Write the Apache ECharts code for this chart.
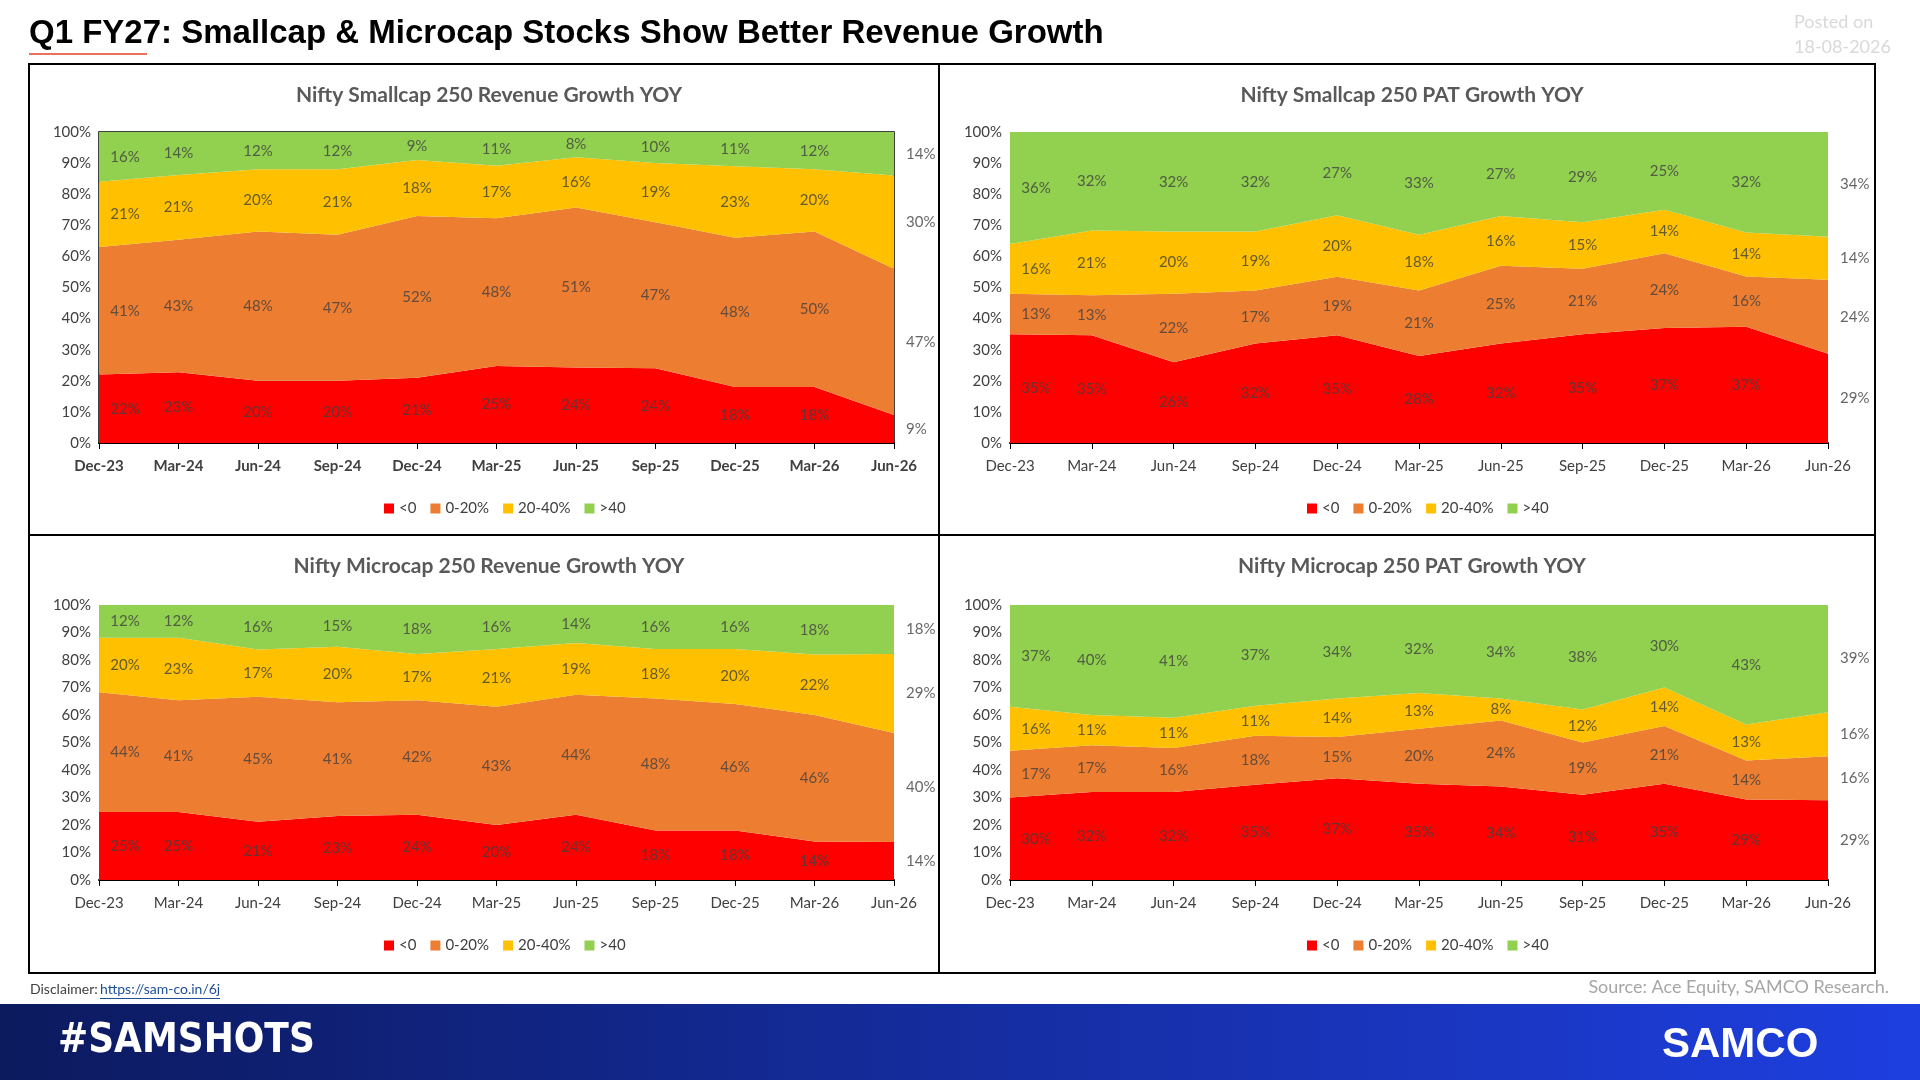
<!doctype html>
<html lang="en">
<head>
<meta charset="UTF-8">
<title>Q1 FY27 Smallcap & Microcap</title>
<script src="https://cdn.jsdelivr.net/npm/echarts@6.0.0/dist/echarts.min.js"></script>
<style>
  html, body { margin: 0; padding: 0; background: #fff; }
  #chart { width: 1920px; height: 1080px; }
</style>
</head>
<body>
<div id="chart"></div>
<script>
    // categories shared by all four panels
    const quarters = ['Dec-23', 'Mar-24', 'Jun-24', 'Sep-24', 'Dec-24', 'Mar-25', 'Jun-25', 'Sep-25', 'Dec-25', 'Mar-26', 'Jun-26']
    const bucketNames = ['<0', '0-20%', '20-40%', '>40']
    const bucketColors = ['#FF0000', '#ED7D31', '#FFC000', '#92D050']

    // Nifty Smallcap 250 revenue growth
    const smallRevNeg = [22, 23, 20, 20, 21, 25, 24, 24, 18, 18, 9]
    const smallRev0to20 = [41, 43, 48, 47, 52, 48, 51, 47, 48, 50, 47]
    const smallRev20to40 = [21, 21, 20, 21, 18, 17, 16, 19, 23, 20, 30]
    const smallRevOver40 = [16, 14, 12, 12, 9, 11, 8, 10, 11, 12, 14]

    // Nifty Smallcap 250 PAT growth
    const smallPatNeg = [35, 35, 26, 32, 35, 28, 32, 35, 37, 37, 29]
    const smallPat0to20 = [13, 13, 22, 17, 19, 21, 25, 21, 24, 16, 24]
    const smallPat20to40 = [16, 21, 20, 19, 20, 18, 16, 15, 14, 14, 14]
    const smallPatOver40 = [36, 32, 32, 32, 27, 33, 27, 29, 25, 32, 34]

    // Nifty Microcap 250 revenue growth
    const microRevNeg = [25, 25, 21, 23, 24, 20, 24, 18, 18, 14, 14]
    const microRev0to20 = [44, 41, 45, 41, 42, 43, 44, 48, 46, 46, 40]
    const microRev20to40 = [20, 23, 17, 20, 17, 21, 19, 18, 20, 22, 29]
    const microRevOver40 = [12, 12, 16, 15, 18, 16, 14, 16, 16, 18, 18]

    // Nifty Microcap 250 PAT growth
    const microPatNeg = [30, 32, 32, 35, 37, 35, 34, 31, 35, 29, 29]
    const microPat0to20 = [17, 17, 16, 18, 15, 20, 24, 19, 21, 14, 16]
    const microPat20to40 = [16, 11, 11, 11, 14, 13, 8, 12, 14, 13, 16]
    const microPatOver40 = [37, 40, 41, 37, 34, 32, 34, 38, 30, 43, 39]

    const FONT = 'Lato, "Noto Sans", sans-serif'
    const panels = [
        {title: 'Nifty Smallcap 250 Revenue Growth YOY', box: [29, 64, 910, 471], grid: [99, 132, 894, 443], bold: true, border: true,
            data: [smallRevNeg, smallRev0to20, smallRev20to40, smallRevOver40]},
        {title: 'Nifty Smallcap 250 PAT Growth YOY', box: [939, 64, 936, 471], grid: [1010, 132, 1828, 443], bold: false, border: false,
            data: [smallPatNeg, smallPat0to20, smallPat20to40, smallPatOver40]},
        {title: 'Nifty Microcap 250 Revenue Growth YOY', box: [29, 535, 910, 438], grid: [99, 605, 894, 880], bold: false, border: false,
            data: [microRevNeg, microRev0to20, microRev20to40, microRevOver40]},
        {title: 'Nifty Microcap 250 PAT Growth YOY', box: [939, 535, 936, 438], grid: [1010, 605, 1828, 880], bold: false, border: false,
            data: [microPatNeg, microPat0to20, microPat20to40, microPatOver40]}
    ]

    const grids = [], xAxes = [], yAxes = [], series = [], titles = [], legends = []
    const graphics = []

    panels.forEach((p, i) => {
        const [gl, gt, gr, gb] = p.grid
        // 100% stacked: each column is scaled to its own total
        const totals = quarters.map((q, j) => p.data.reduce((s, vals) => s + vals[j], 0))
        const shares = p.data.map(vals => vals.map((v, j) => v / totals[j] * 100))

        grids.push({left: gl, top: gt, width: gr - gl, height: gb - gt,
            show: p.border, borderColor: '#000', borderWidth: 1.5})
        xAxes.push({type: 'category', gridIndex: i, data: quarters, boundaryGap: false,
            axisLine: {lineStyle: {color: '#000', width: 2}},
            axisTick: {show: true, alignWithLabel: true, length: 6, lineStyle: {color: '#000'}},
            axisLabel: {color: '#404040', fontSize: 15, fontWeight: p.bold ? 'bold' : 'normal', fontFamily: FONT, margin: 16, interval: 0}})
        yAxes.push({type: 'value', gridIndex: i, min: 0, max: 100, interval: 10,
            splitLine: {show: false}, axisLine: {show: false}, axisTick: {show: false},
            axisLabel: {color: '#404040', fontSize: 15, fontFamily: FONT, formatter: v => v + '%'}})

        titles.push({text: p.title, left: p.box[0] + p.box[2] / 2, textAlign: 'center',
            top: p.box[1] + 16,
            textStyle: {color: '#595959', fontSize: 21, fontWeight: 'bold', fontFamily: FONT}})
        legends.push({data: bucketNames, left: p.box[0] + p.box[2] / 2 - 105, top: p.box[1] + (i < 2 ? 432 : 398),
            itemWidth: 10, itemHeight: 10, itemGap: 14, icon: 'rect',
            textStyle: {color: '#404040', fontSize: 15, fontFamily: FONT}})
        graphics.push({type: 'rect', shape: {x: p.box[0], y: p.box[1], width: p.box[2], height: p.box[3]},
            style: {fill: 'none', stroke: '#000', lineWidth: 2}, z: 10})

        // stacked areas
        shares.forEach((vals, k) => {
            series.push({name: bucketNames[k], type: 'line', stack: 'p' + i, xAxisIndex: i, yAxisIndex: i,
                data: vals, symbol: 'none', lineStyle: {width: 0}, silent: true,
                itemStyle: {color: bucketColors[k]},
                areaStyle: {color: bucketColors[k], opacity: 1}})
        })
        // labels at the middle of each band
        const base = quarters.map(() => 0)
        shares.forEach((vals, k) => {
            const raw = p.data[k]
            const pts = vals.map((v, j) => {
                const m = base[j] + v / 2
                base[j] += v
                const last = j === quarters.length - 1
                return {value: [j, m], raw: raw[j],
                    label: last ? {position: 'right', distance: 12} : {offset: [j === 0 ? 26 : 0, 0]}}
            })
            series.push({name: bucketNames[k] + ' lbl', type: 'scatter', xAxisIndex: i, yAxisIndex: i,
                data: pts, symbolSize: 0, silent: true, z: 5,
                label: {show: true, position: 'inside',
                    formatter: d => d.data.raw + '%', color: '#404040', fontSize: 15, fontFamily: FONT}})
        })
    })

    graphics.push(
        {type: 'rect', shape: {x: 29, y: 53, width: 118, height: 2}, style: {fill: '#E8735A'}},
        {type: 'text', left: 1794, top: 10, style: {text: 'Posted on\n18-08-2026', fill: '#D9D9D9', font: '18px ' + FONT, lineHeight: 25}},
        {type: 'text', left: 30, top: 982, style: {text: 'Disclaimer: ', fill: '#404040', font: '14px ' + FONT}},
        {type: 'text', left: 100, top: 982, style: {text: 'https://sam-co.in/6j', fill: '#1F4E9A', font: '14px ' + FONT}},
        {type: 'rect', shape: {x: 100, y: 998, width: 120, height: 1}, style: {fill: '#1F4E9A'}},
        {type: 'text', right: 31, top: 978, style: {text: 'Source: Ace Equity, SAMCO Research.', fill: '#A6A6A6', font: '18px ' + FONT}},
        {type: 'rect', shape: {x: 0, y: 1004, width: 1920, height: 76},
            style: {fill: new echarts.graphic.LinearGradient(0, 0, 1, 0, [{offset: 0, color: '#0C1A5E'}, {offset: 1, color: '#1E3FE0'}])}},
        {type: 'text', left: 58, top: 1022, style: {text: '#SAMSHOTS', fill: '#fff', font: 'bold 40px "Liberation Sans Narrow", "DejaVu Sans Condensed", sans-serif'}},
        {type: 'text', left: 1662, top: 1024, style: {text: 'SAMCO', fill: '#fff', font: 'bold 42px "Liberation Sans", sans-serif'}}
    )

    const chart = echarts.init(document.getElementById('chart'))
    chart.setOption({
        animation: false,
        title: [{text: 'Q1 FY27: Smallcap & Microcap Stocks Show Better Revenue Growth', left: 24, top: 12,
            textStyle: {color: '#000', fontSize: 33, fontWeight: 'bold', fontFamily: '"Liberation Sans", Arial, sans-serif'}}].concat(titles),
        legend: legends,
        grid: grids,
        xAxis: xAxes,
        yAxis: yAxes,
        series: series,
        graphic: graphics
    })
</script>
</body>
</html>
